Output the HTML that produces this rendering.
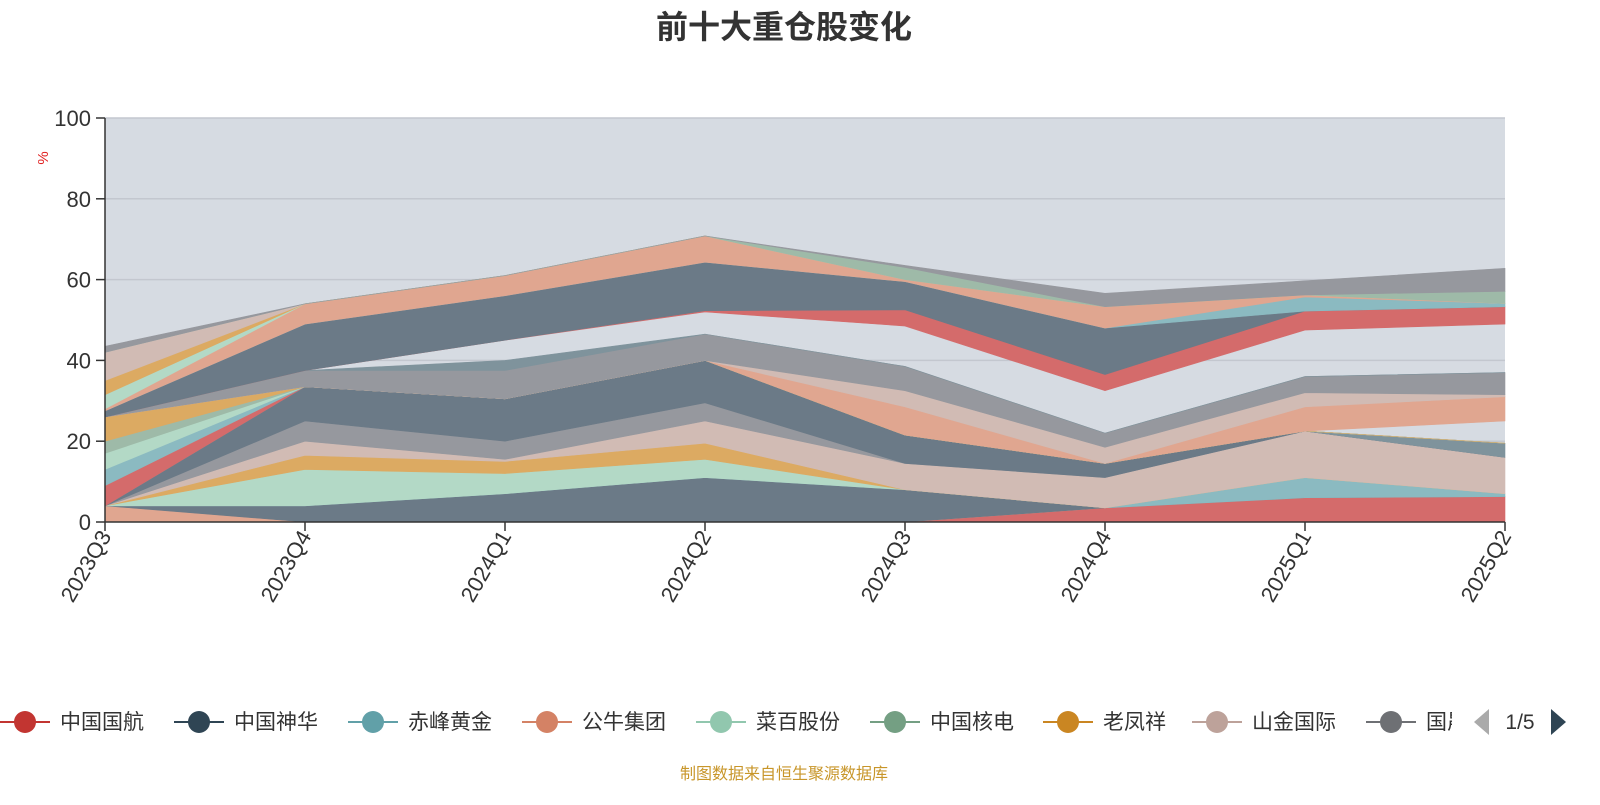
<!DOCTYPE html>
<html><head><meta charset="utf-8"><style>
body{margin:0;background:#fff;font-family:"Liberation Sans","Noto Sans CJK SC",sans-serif;}
svg text{font-family:"Liberation Sans","Noto Sans CJK SC",sans-serif;}
</style></head><body>
<svg id="chart" width="1600" height="800" xmlns="http://www.w3.org/2000/svg">
<text x="784" y="38" text-anchor="middle" font-size="32" font-weight="bold" fill="#333">前十大重仓股变化</text>
<rect x="105" y="118" width="1400" height="404" fill="#d6dbe2"/>
<g id="grid"></g>
<g id="areas"></g>
<g id="axes"></g>
<text x="48" y="158" font-size="15" fill="#e02020" transform="rotate(-90 48 158)" text-anchor="middle">%</text>
<g id="legend"></g>
<text x="784" y="779" text-anchor="middle" font-size="16" fill="#c8962a">制图数据来自恒生聚源数据库</text>
</svg>
<script>
const categories=["2023Q3","2023Q4","2024Q1","2024Q2","2024Q3","2024Q4","2025Q1","2025Q2"];
const yTicks=[0,20,40,60,80,100];
const legendNames=["中国国航","中国神华","赤峰黄金","公牛集团","菜百股份","中国核电","老凤祥","山金国际","国晟"];
const legendColors=["#c23531","#2f4554","#61a0a8","#d48265","#91c7ae","#749f83","#ca8622","#bda29a","#6e7074"];
const seriesColors=["#d46b6b","#e0a690","#6b7a87","#8bbac1","#b3d9c6","#dcaa62","#d1bbb4","#96989e","#6b7a87","#7f939c","#d46b6b","#8bbac1","#b3d9c6","#9ebaa8","#dcaa62","none","#e0a690","#d1bbb4","#96989e","#7f939c","none","#d46b6b","#6b7a87","#8bbac1","#e0a690","#b3d9c6","#dcaa62","#d1bbb4","#9ebaa8","#96989e"];
const s01=[0,0,0,0,0,3.5,6,6.3];
const s02=[4,0,0,0,0,0,0,0];
const s03=[0,4,7,11,8,0,0,0];
const s04=[0,0,0,0,0,0,5,0.7];
const s05=[0,9,5,4.5,0,0,0,0];
const s06=[0,3.5,3,4,0,0,0,0];
const s07=[0,3.5,0.5,5.5,6.5,7.5,11.5,9];
const s08=[0,5,4.5,4.5,0,0,0,0];
const s09=[0,8.5,10.5,10.5,7,3.5,0,0];
const s10=[0,0,0,0,0,0,0,3.5];
const s11=[5,0,0,0,0,0,0,0];
const s12=[4,0,0,0,0,0,0,0];
const s13=[4,0,0,0,0,0,0,0];
const s14=[3,0,0,0,0,0,0,0];
const s15=[6,0,0,0,0,0,0,0];
const s16=[0,0,0,0,0,0,0,5.5];
const s17=[0,0,0,0,7,0,6,6];
const s18=[0,0,0,0,4,4,3.5,0.5];
const s19=[0,4,7,6.5,6,3.5,4,5.5];
const s20=[0,0,2.5,0,0,0,0,0];
const s21=[0,0,5,5.5,10,10.5,11.5,12];
const s22=[0,0,0,0.3,4,4,4.7,4.3];
const s23=[1.5,11.5,11,12,7,11.5,0,0];
const s24=[0,0,0,0,0,0,3.5,0.8];
const s25=[0.5,5,5,6.5,0.5,5.3,0.5,0];
const s26=[3.5,0,0,0,0,0,0,0];
const s27=[3.5,0,0,0,0,0,0,0];
const s28=[7,0,0,0,0,0,0,0];
const s29=[0,0,0,0,3,0,0,3];
const s30=[1.5,0,0,0,0.5,3.3,3.5,5.7];
const seriesList=[s01,s02,s03,s04,s05,s06,s07,s08,s09,s10,s11,s12,s13,s14,s15,s16,s17,s18,s19,s20,s21,s22,s23,s24,s25,s26,s27,s28,s29,s30];

const NS="http://www.w3.org/2000/svg";
const X0=105,X1=1505,Y0=522,Y1=118;
const xPos=i=>X0+i*(X1-X0)/(categories.length-1);
const yPos=v=>Y0-(v/100)*(Y0-Y1);
function mk(tag,attrs,parent){const e=document.createElementNS(NS,tag);for(const k in attrs)e.setAttribute(k,attrs[k]);parent.appendChild(e);return e;}
const grid=document.getElementById('grid'),areas=document.getElementById('areas'),axes=document.getElementById('axes'),legend=document.getElementById('legend');
yTicks.forEach(t=>{if(t===0)return;const l=mk('line',{x1:X0,x2:X1,y1:yPos(t),y2:yPos(t),stroke:'#c3c7cf','stroke-width':1.5},grid);

});
let base=categories.map(()=>0);
seriesList.forEach((s,si)=>{
  const top=base.map((b,i)=>b+s[i]);
  const pts=[];
  top.forEach((v,i)=>pts.push(xPos(i)+','+yPos(v)));
  for(let i=base.length-1;i>=0;i--)pts.push(xPos(i)+','+yPos(base[i]));
  if(seriesColors[si]!=='none'){
    const p=mk('polygon',{points:pts.join(' '),fill:seriesColors[si],stroke:seriesColors[si],'stroke-width':0.6},areas);
    
    
  }
  base=top;
});
mk('line',{x1:X0,x2:X0,y1:Y1,y2:Y0,stroke:'#333','stroke-width':1.5},axes);
mk('line',{x1:X0,x2:X1,y1:Y0,y2:Y0,stroke:'#333','stroke-width':1.5},axes);
yTicks.forEach(t=>{
  mk('line',{x1:X0-9,x2:X0,y1:yPos(t),y2:yPos(t),stroke:'#333','stroke-width':1.5},axes);
  const tx=mk('text',{x:X0-14,y:yPos(t)+8,'text-anchor':'end','font-size':22,fill:'#333'},axes);
  tx.textContent=t;
  
  
});
categories.forEach((c,i)=>{
  const x=xPos(i);
  mk('line',{x1:x,x2:x,y1:Y0,y2:Y0+9,stroke:'#333','stroke-width':1.5},axes);
  const tx=mk('text',{x:x+7,y:Y0+14,'text-anchor':'end','font-size':22,fill:'#333',transform:`rotate(-60 ${x+7} ${Y0+14})`},axes);
  tx.textContent=c;
  
  
});
const clip=mk('clipPath',{id:'lc'},legend);mk('rect',{x:0,y:690,width:1452,height:60},clip);
const lg=mk('g',{'clip-path':'url(#lc)'},legend);
const lx=[0,174,348,522,696,870,1043,1192,1366];
legendNames.forEach((n,i)=>{
  const g=mk('g',{},lg);
  
  
  const x=lx[i];
  mk('line',{x1:x,x2:x+50,y1:722,y2:722,stroke:legendColors[i],'stroke-width':2},g);
  mk('circle',{cx:x+25,cy:722,r:11,fill:legendColors[i]},g);
  const t=mk('text',{x:x+60,y:729,'font-size':21,fill:'#333'},g);t.textContent=n;
});
const pl=mk('polygon',{points:'1489,709 1489,735 1474,722',fill:'#aaa'},legend);


const pt=mk('text',{x:1520,y:729,'text-anchor':'middle','font-size':21,fill:'#333'},legend);pt.textContent='1/5';


const pn=mk('polygon',{points:'1551,709 1551,735 1566,722',fill:'#2f4554'},legend);


</script>
</body></html>
